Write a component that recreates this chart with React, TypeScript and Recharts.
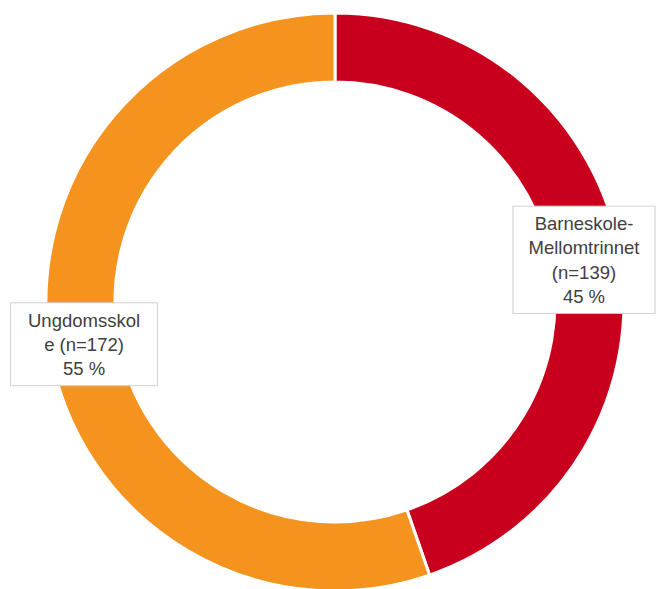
import { PieChart, Pie, Cell } from "recharts";

const categories = ["Barneskole-Mellomtrinnet", "Ungdomsskole"];
const counts = [139, 172];
const colors = ["#C8001E", "#F5931F"];
// label text as wrapped in the original
const labelLines = [
    ["Barneskole-", "Mellomtrinnet", "(n=139)", "45 %"],
    ["Ungdomsskol", "e (n=172)", "55 %"],
];

const data = categories.map((name, i) => ({ name, value: counts[i] }));

const RADIAN = Math.PI / 180;
const FONT = "18.5px 'Liberation Sans', Arial, sans-serif";
const BOX_W = [142, 147];
const LINE_H = 24.3;

const renderLabel = (props: any) => {
    const { cx, cy, midAngle, innerRadius, outerRadius, index } = props;
    const lines = labelLines[index];
    const r = (innerRadius + outerRadius) / 2;
    const ax = cx + r * Math.cos(-midAngle * RADIAN);
    const ay = cy + r * Math.sin(-midAngle * RADIAN);
    const w = BOX_W[index];
    const h = lines.length * LINE_H + 10;
    let x = ax - w / 2;
    if (x < 10) x = 10;
    if (x + w > 655) x = 655 - w;
    const y = ay - h / 2;
    return (
        <g>
            <rect x={x} y={y} width={w} height={h} fill="#fff" stroke="#d0d0d0" strokeWidth={1} />
            {lines.map((l, i) => (
                <text
                    key={i}
                    x={x + w / 2}
                    y={y + 24 + i * LINE_H}
                    textAnchor="middle"
                    fill="#404040"
                    style={{ font: FONT }}
                >
                    {l}
                </text>
            ))}
        </g>
    );
};

export default function App() {
    return (
        <div style={{ position: "absolute", left: 0, top: 0, background: "#fff" }}>
            <PieChart width={656} height={589} margin={{ top: 0, right: 0, bottom: 0, left: 0 }}>
                <Pie
                    data={data}
                    dataKey="value"
                    cx={335}
                    cy={302}
                    innerRadius={220}
                    outerRadius={289}
                    startAngle={90}
                    endAngle={-270}
                    stroke="#fff"
                    strokeWidth={3}
                    label={renderLabel}
                    labelLine={false}
                    isAnimationActive={false}
                >
                    {data.map((d, i) => (
                        <Cell key={d.name} fill={colors[i]} />
                    ))}
                </Pie>
            </PieChart>
        </div>
    );
}
